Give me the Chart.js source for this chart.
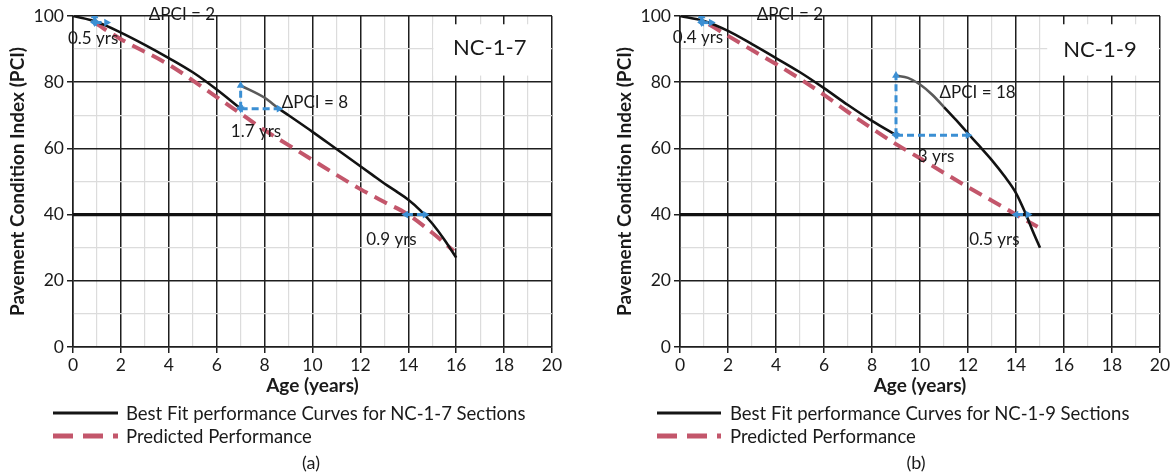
<!DOCTYPE html>
<html>
<head>
<meta charset="utf-8">
<script src="https://cdn.jsdelivr.net/npm/chart.js@4.4.1/dist/chart.umd.min.js"></script>
<style>
  body { margin: 0; background: #fff; font-family: Lato, sans-serif; color: #1a1a1a; }
  #wrap { position: relative; width: 1173px; height: 473px; overflow: hidden; }
  .panel { position: absolute; top: 0; width: 586px; height: 400px; }
  .leg { position: absolute; font-size: 18.5px; line-height: 22px; white-space: nowrap; }
  .cap { position: absolute; font-size: 18px; line-height: 22px; transform: translateX(-50%); }
  svg { position: absolute; left: 0; top: 0; }
</style>
</head>
<body>
<div id="wrap">
  <div class="panel" style="left:0"><canvas id="chart1" width="586" height="400"></canvas></div>
  <div class="panel" style="left:587px"><canvas id="chart2" width="586" height="400"></canvas></div>

  <svg width="1173" height="473">
    <line x1="53" y1="413" x2="118" y2="413" stroke="#151515" stroke-width="3"/>
    <line x1="53" y1="436" x2="118" y2="436" stroke="#c3566b" stroke-width="5" stroke-dasharray="20 10"/>
    <line x1="657" y1="413" x2="721" y2="413" stroke="#151515" stroke-width="3"/>
    <line x1="657" y1="436" x2="721" y2="436" stroke="#c3566b" stroke-width="5" stroke-dasharray="20 10"/>
  </svg>
  <div class="leg" style="left:126px;top:402px">Best Fit performance Curves for NC-1-7 Sections</div>
  <div class="leg" style="left:126px;top:425px">Predicted Performance</div>
  <div class="leg" style="left:730px;top:402px">Best Fit performance Curves for NC-1-9 Sections</div>
  <div class="leg" style="left:730px;top:425px">Predicted Performance</div>
  <div class="cap" style="left:311px;top:451px">(a)</div>
  <div class="cap" style="left:916px;top:451px">(b)</div>
</div>

<script>
// axes
const xTicks = [0, 2, 4, 6, 8, 10, 12, 14, 16, 18, 20];
const yTicks = [0, 20, 40, 60, 80, 100];
const thresholdPci = 40;

// NC-1-7 : best fit (null = break at the treatment jump)
const age7 = [0, 1, 2, 3, 4, 5, 6, 7, 7, 7, 8, 8.6, 9, 10, 11, 12, 12.5, 13, 13.5, 14, 14.5, 15, 15.5, 16];
const pci7 = [100, 98.2, 95, 91.3, 87.3, 83, 77.8, 72, null, 79, 75.3, 72, 70, 65, 59.8, 54.6, 52, 49.4, 47, 44.5, 41.3, 37.3, 32.5, 27];
// NC-1-7 : predicted
const predAge7 = [0.9, 2, 4, 6, 7, 8, 9, 10, 11, 12, 13, 14, 15, 15.9];
const predPci7 = [98, 93, 85.3, 75.5, 70.5, 65.5, 61, 56.5, 52, 47.7, 43.8, 40, 34.5, 29];

// NC-1-9 : best fit
const age9 = [0, 1, 2, 3, 4, 5, 6, 7, 8, 9, 9, 9, 9.5, 10, 10.5, 11, 11.5, 12, 12.5, 13, 13.5, 14, 14.4, 14.7, 15];
const pci9 = [100, 98.5, 95.5, 91.5, 87.3, 83, 78.2, 73.1, 68.3, 64, null, 82, 81.3, 79.3, 76.3, 72.5, 68.6, 64.5, 60.5, 56.4, 51.8, 46.5, 40.3, 35, 30];
// NC-1-9 : predicted
const predAge9 = [1.2, 2, 3, 4, 5, 6, 7, 8, 9, 10, 11, 12, 13, 14, 14.9];
const predPci9 = [97.5, 94, 89.7, 85.5, 81, 76.2, 71, 66, 61.3, 57, 52.6, 48.3, 44.2, 40, 36.3];

// blue dimension arrows [start, end] in (age, PCI)
const arrows7 = [
  [[0.9, 98], [0.9, 100]],
  [[0.9, 98], [1.4, 98]],
  [[7, 72], [7, 79]],
  [[7, 72], [8.6, 72]],
  [[13.9, 40], [14.7, 40]]
];
const arrows9 = [
  [[0.9, 98], [0.9, 100]],
  [[0.9, 98], [1.3, 98]],
  [[9, 64], [9, 82]],
  [[9, 64], [12, 64]],
  [[14.0, 40], [14.5, 40]]
];

// age ranges where the fitted curve is drawn grey
const grey7 = [[7, 8.6]];
const grey9 = [[9, 11]];

const notes7 = [
  { text: 'ΔPCI = 2', x: 4.55, y: 100.4, under: true },
  { text: '0.5 yrs', x: 0.84, y: 93.2 },
  { text: 'ΔPCI = 8', x: 10.1, y: 73.8 },
  { text: '1.7 yrs', x: 7.64, y: 65.2 },
  { text: '0.9 yrs', x: 13.3, y: 32.6 }
];
const notes9 = [
  { text: 'ΔPCI = 2', x: 4.58, y: 100.4, under: true },
  { text: '0.4 yrs', x: 0.75, y: 93.5 },
  { text: 'ΔPCI = 18', x: 12.4, y: 76.9 },
  { text: '3 yrs', x: 10.67, y: 57.5 },
  { text: '0.5 yrs', x: 13.1, y: 32.6 }
];
const box7 = { text: 'NC-1-7', x0: 15.05, x1: 20, y0: 82, y1: 97.5, tx: 17.4, ty: 90.4 };
const box9 = { text: 'NC-1-9', x0: 15.3, x1: 20, y0: 82, y1: 97.5, tx: 17.5, ty: 89.7 };

const INK = '#1a1a1a';
const RED = '#c3566b';
const BLUE = '#3b8fd3';
Chart.defaults.font.family = 'Lato, sans-serif';

const notesPlugin = {
  id: 'notes',
  beforeDraw(chart, args, opts) {
    drawNotes(chart, opts.list.filter(n => n.under));
  },
  beforeDatasetsDraw(chart, args, opts) {
    const b = opts.box, xs = chart.scales.x, ys = chart.scales.y, c = chart.ctx;
    const l = xs.getPixelForValue(b.x0), r = Math.min(xs.getPixelForValue(b.x1), chart.chartArea.right - 1.5);
    const t = ys.getPixelForValue(b.y1), btm = ys.getPixelForValue(b.y0);
    c.save();
    c.fillStyle = '#fff';
    c.fillRect(l, t, r - l, btm - t);
    c.fillStyle = INK;
    c.font = '22px Lato, sans-serif';
    c.textAlign = 'center';
    c.textBaseline = 'middle';
    c.fillText(b.text, xs.getPixelForValue(b.tx), ys.getPixelForValue(b.ty));
    c.restore();
  },
  afterDatasetsDraw(chart, args, opts) {
    drawNotes(chart, opts.list.filter(n => !n.under));
  }
};

function drawNotes(chart, list) {
  const c = chart.ctx, xs = chart.scales.x, ys = chart.scales.y;
  c.save();
  c.fillStyle = INK;
  c.font = '17px Lato, sans-serif';
  c.textAlign = 'center';
  c.textBaseline = 'middle';
  list.forEach(n => c.fillText(n.text, xs.getPixelForValue(n.x), ys.getPixelForValue(n.y)));
  c.restore();
}

function pts(xs, ys) {
  return xs.map((x, i) => ({ x: x, y: ys[i] }));
}

function arrowSets(list) {
  return list.map(a => {
    const vertical = a[0][0] === a[1][0];
    return {
      data: a.map(p => ({ x: p[0], y: p[1] })),
      borderColor: BLUE,
      backgroundColor: BLUE,
      borderWidth: 3,
      borderDash: [7, 4],
      pointStyle: 'triangle',
      pointRadius: 4.5,
      pointRotation: vertical ? [180, 0] : [270, 90],
      pointBorderWidth: 0
    };
  });
}

function makeChart(id, fitX, fitY, predX, predY, arrows, grey, notes, box, padLeft, padRight) {
  const inGrey = ctx => grey.some(g => ctx.p0.parsed.x >= g[0] && ctx.p1.parsed.x <= g[1]);
  return new Chart(document.getElementById(id), {
    type: 'line',
    data: {
      datasets: [
        ...arrowSets(arrows),
        {
          data: pts(fitX, fitY),
          borderColor: '#121212',
          borderWidth: 2.6,
          pointRadius: 0,
          spanGaps: false,
          cubicInterpolationMode: 'monotone',
          segment: { borderColor: ctx => inGrey(ctx) ? '#5a5a5a' : undefined }
        },
        {
          data: pts(predX, predY),
          borderColor: RED,
          borderWidth: 4,
          borderDash: [14, 8],
          pointRadius: 0,
          cubicInterpolationMode: 'monotone'
        },
        {
          data: [{ x: xTicks[0], y: thresholdPci }, { x: xTicks[xTicks.length - 1], y: thresholdPci }],
          borderColor: '#111',
          borderWidth: 3.4,
          pointRadius: 0
        }
      ]
    },
    options: {
      responsive: false,
      animation: false,
      layout: { padding: { left: padLeft, right: padRight, top: 16, bottom: 0 } },
      plugins: {
        legend: { display: false },
        tooltip: { enabled: false },
        notes: { list: notes, box: box }
      },
      scales: {
        x: {
          type: 'linear',
          min: 0, max: 20,
          ticks: {
            stepSize: 1, autoSkip: false, maxRotation: 0, padding: 2,
            color: INK, font: { size: 17.5 },
            callback: v => xTicks.includes(v) ? v : ''
          },
          grid: {
            color: c => xTicks.includes(c.tick.value) ? '#1e1e1e' : '#dcdcdc',
            lineWidth: c => xTicks.includes(c.tick.value) ? 1.5 : 1.2,
            tickColor: c => xTicks.includes(c.tick.value) ? '#1e1e1e' : 'rgba(0,0,0,0)',
            tickLength: 6
          },
          border: { color: '#1e1e1e', width: 1.5 },
          title: {
            display: true, text: 'Age (years)', color: INK,
            font: { size: 19, weight: 'bold' }, padding: { top: 0, bottom: 3 }
          },
          afterFit: s => { s.height = 53; }
        },
        y: {
          type: 'linear',
          min: 0, max: 100,
          ticks: {
            stepSize: 10, padding: 3, color: INK, font: { size: 17.5 },
            callback: v => yTicks.includes(v) ? v : ''
          },
          grid: {
            color: c => yTicks.includes(c.tick.value) ? '#1e1e1e' : '#dcdcdc',
            lineWidth: c => yTicks.includes(c.tick.value) ? 1.5 : 1.2,
            tickColor: c => yTicks.includes(c.tick.value) ? '#1e1e1e' : 'rgba(0,0,0,0)',
            tickLength: 6
          },
          border: { color: '#1e1e1e', width: 1.5 },
          title: {
            display: true, text: 'Pavement Condition Index (PCI)', color: INK,
            font: { size: 19, weight: 'bold' }, padding: { top: 6, bottom: 0 }
          },
          afterFit: s => { s.width = 73; }
        }
      }
    },
    plugins: [notesPlugin]
  });
}

makeChart('chart1', age7, pci7, predAge7, predPci7, arrows7, grey7, notes7, box7, 0, 34);
makeChart('chart2', age9, pci9, predAge9, predPci9, arrows9, grey9, notes9, box9, 20, 13);
</script>
</body>
</html>
